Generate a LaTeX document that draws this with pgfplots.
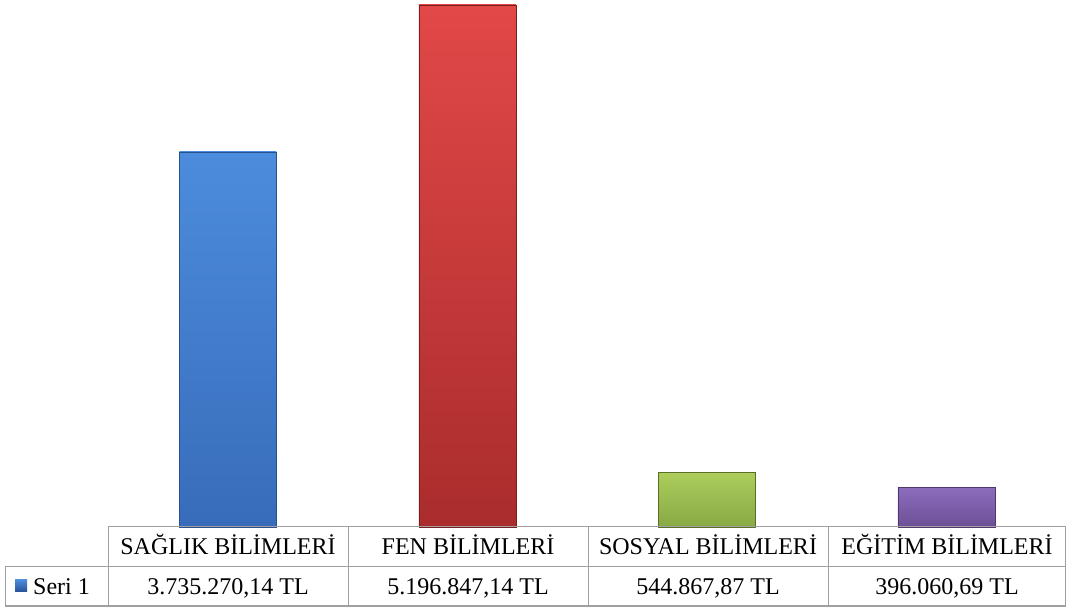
\documentclass[border=0pt]{standalone}
\usepackage{fontspec}
\setmainfont{Liberation Serif}
\usepackage{pgfplots}
\pgfplotsset{compat=1.18}
\definecolor{gridc}{HTML}{A0A0A0}
\begin{document}
\begin{tikzpicture}[x=1pt,y=1pt]
\useasboundingbox (0,0) rectangle (1066,608);
\begin{axis}[
  at={(108pt,81pt)}, anchor=south west,
  width=958pt, height=527pt, scale only axis,
  axis lines=none,
  xmin=0.5, xmax=4.5,
  ymin=0, ymax=5246625,
  xtick=\empty, ytick=\empty,
  ybar, bar width=97pt, bar shift=0pt,
  clip=false,
]
\addplot[draw={rgb,255:red,40;green,80;blue,140},
  top color={rgb,255:red,76;green,140;blue,220}, bottom color={rgb,255:red,56;green,108;blue,186}] coordinates {(1,3735270.14)};
\addplot[draw={rgb,255:red,120;green,30;blue,30},
  top color={rgb,255:red,226;green,72;blue,72}, bottom color={rgb,255:red,170;green,44;blue,44}] coordinates {(2,5196847.14)};
\addplot[draw={rgb,255:red,90;green,110;blue,40},
  top color={rgb,255:red,172;green,206;blue,92}, bottom color={rgb,255:red,136;green,168;blue,68}] coordinates {(3,544867.87)};
\addplot[draw={rgb,255:red,80;green,56;blue,110},
  top color={rgb,255:red,140;green,108;blue,188}, bottom color={rgb,255:red,108;green,80;blue,150}] coordinates {(4,396060.69)};
\end{axis}
% data table
\draw[gridc, line width=1pt] (108,81) -- (1066,81);
\draw[gridc, line width=1pt] (5,41) -- (1066,41);
\draw[gridc, line width=1pt] (5,2) -- (1066,2);
\draw[gridc, line width=1pt] (5,41) -- (5,2);
\foreach \xx in {108,348,588,828,1065.5} \draw[gridc, line width=1pt] (\xx,81) -- (\xx,2);
\begin{scope}[every node/.style={font=\fontsize{24}{27}\selectfont, inner sep=0pt, anchor=base}]
\node at (228,53) {SAĞLIK BİLİMLERİ};
\node at (468,53) {FEN BİLİMLERİ};
\node at (708,53) {SOSYAL BİLİMLERİ};
\node at (947,53) {EĞİTİM BİLİMLERİ};
\node at (228,13) {3.735.270,14 TL};
\node at (468,13) {5.196.847,14 TL};
\node at (708,13) {544.867,87 TL};
\node at (947,13) {396.060,69 TL};
\node[anchor=base west] at (33,13) {Seri 1};
\end{scope}
\fill[top color={rgb,255:red,76;green,140;blue,220}, bottom color={rgb,255:red,40;green,80;blue,150}] (15,16) rectangle (27,28);
\end{tikzpicture}
\end{document}
